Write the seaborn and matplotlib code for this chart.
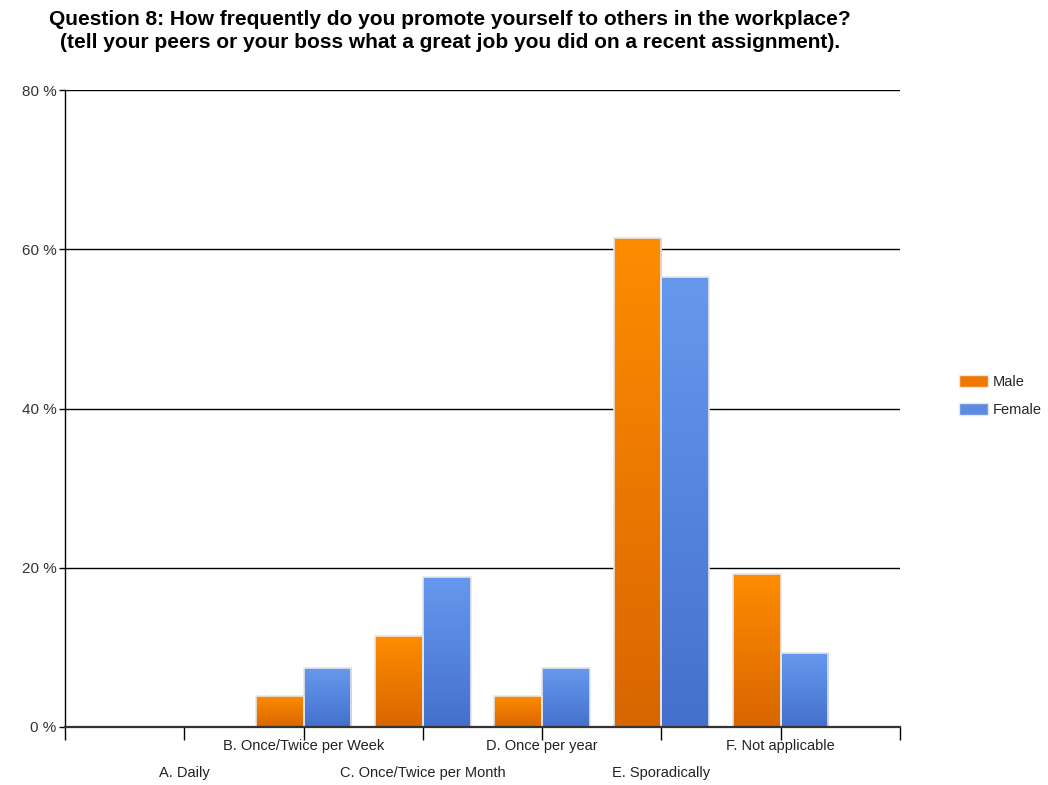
import numpy as np
import pandas as pd
import matplotlib
matplotlib.use("Agg")
import matplotlib.pyplot as plt
import seaborn as sns
from matplotlib.colors import LinearSegmentedColormap
from matplotlib.patches import Patch
import matplotlib.transforms as mtransforms

categories = ["A. Daily", "B. Once/Twice per Week", "C. Once/Twice per Month",
              "D. Once per year", "E. Sporadically", "F. Not applicable"]
male = [0.0, 3.9, 11.4, 3.9, 61.4, 19.2]
female = [0.0, 7.4, 18.8, 7.4, 56.5, 9.3]
series = ["Male", "Female"]
yticks = [0, 20, 40, 60, 80]
title = ("Question 8: How frequently do you promote yourself to others in the workplace?\n"
         "(tell your peers or your boss what a great job you did on a recent assignment).")

sns.set_theme(style="white")
plt.rcParams['font.family'] = ['Liberation Sans', 'DejaVu Sans']

df = pd.DataFrame({
    "Category": categories * 2,
    "Gender": ["Male"] * len(categories) + ["Female"] * len(categories),
    "Value": male + female,
})

fig = plt.figure(figsize=(10.48, 7.85), dpi=100)
ax = fig.add_axes([65/1048, 58/785, 835/1048, 637/785])

palette = {"Male": "#F58200", "Female": "#5B8BE0"}
sns.barplot(data=df, x="Category", y="Value", hue="Gender", order=categories,
            hue_order=series, palette=palette, ax=ax, legend=False,
            edgecolor="#e6e6e6", linewidth=1.2, saturation=1, width=0.8, zorder=3)

grads = {
    "Male": LinearSegmentedColormap.from_list("m", ["#D86600", "#FF8C00"]),
    "Female": LinearSegmentedColormap.from_list("f", ["#4470CC", "#6699EE"]),
}
n = len(categories)
grad = np.linspace(0, 1, 256).reshape(-1, 1)
for i, p in enumerate(ax.patches[:2 * n]):
    g = series[i // n]
    h = p.get_height()
    if h <= 0:
        continue
    x0 = p.get_x(); w = p.get_width()
    im = ax.imshow(grad, cmap=grads[g], origin="lower", aspect="auto",
                   extent=[x0, x0 + w, 0, h], zorder=3.5, interpolation="bilinear")
    im.set_clip_path(p)
    p.set_zorder(4)
    p.set_facecolor("none")

ax.set_xlim(-1, n)
ax.set_ylim(0, 80)
ax.set_xticks(np.arange(-1, n + 1))
ax.set_xticklabels([""] * (n + 2))
ax.set_yticks(yticks)
ax.set_yticklabels([f"{v} %" for v in yticks], fontsize=11)
ax.set_xlabel("")
ax.set_ylabel("")
for v in yticks[1:]:
    ax.axhline(v, color="black", linewidth=1.0, zorder=1)

for s in ["top", "right"]:
    ax.spines[s].set_visible(False)
ax.spines["left"].set_color("black")
ax.spines["left"].set_linewidth(1.0)
ax.spines["bottom"].set_color("#333333")
ax.spines["bottom"].set_linewidth(1.6)
ax.spines["bottom"].set_zorder(6)
ax.tick_params(axis="x", direction="out", length=9, width=1, colors="black", bottom=True)
ax.tick_params(axis="y", direction="out", length=4, width=1, colors="black", left=True, pad=2)
for lab in ax.get_yticklabels():
    lab.set_color("#333333")

trans = mtransforms.blended_transform_factory(ax.transData, fig.transFigure)
for i, c in enumerate(categories):
    y = 1 - (746 / 785) if i % 2 == 1 else 1 - (773 / 785)
    ax.text(i, y, c, transform=trans, ha="center", va="center", fontsize=10.5, color="#222222")

fig.text(450/1048, 1 - 31/785, title, ha="center", va="center", fontsize=15,
         fontweight="bold", linespacing=1.25, color="black")

handles = [Patch(facecolor="#F07800", edgecolor="#e6e6e6", label="Male"),
           Patch(facecolor="#5B8BE0", edgecolor="#e6e6e6", label="Female")]
fig.legend(handles=handles, loc="center left", bbox_to_anchor=(946/1048, 1 - 396/785),
           frameon=False, fontsize=10.5, handlelength=2.0, handleheight=0.9,
           labelspacing=1.0, handletextpad=0.3)

fig.savefig("out.png", dpi=100)
